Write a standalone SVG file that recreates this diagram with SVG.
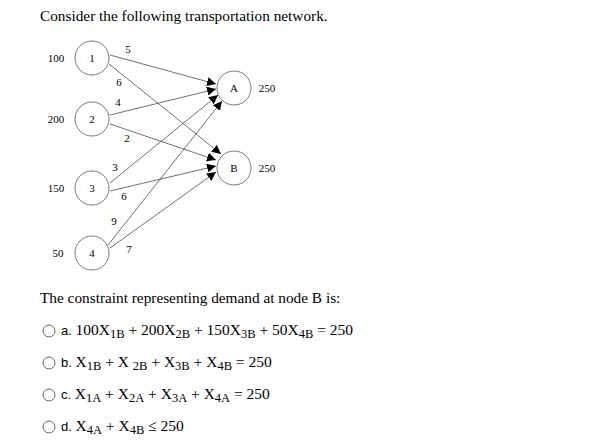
<svg xmlns="http://www.w3.org/2000/svg" width="607" height="447" viewBox="0 0 607 447">
<style>
.s{font-family:"Liberation Serif",serif;fill:#000}
.t{font-family:"Liberation Serif",serif;font-size:15.3px;fill:#000}
.n{font-family:"Liberation Serif",serif;font-size:11px;fill:#000}
.o{font-family:"Liberation Sans",sans-serif;font-size:13px;fill:#000}
.c{fill:#fff;stroke:#555;stroke-width:0.8}
.e{stroke:#333;stroke-width:0.7;fill:none;marker-end:url(#ah)}
.r{fill:#fff;stroke:#666;stroke-width:1}
</style>
<defs><marker id="ah" viewBox="0 0 10 10" refX="10" refY="5" markerWidth="9" markerHeight="9" markerUnits="userSpaceOnUse" orient="auto"><path d="M0,0L10,5L0,10z" fill="#000"/></marker></defs>
<rect width="607" height="447" fill="#fff"/>
<text class="t" x="40" y="21">Consider the following transportation network.</text>
<g id="edges">
<line class="e" x1="110" y1="55" x2="216" y2="84"/>
<line class="e" x1="109" y1="64" x2="221" y2="154"/>
<line class="e" x1="110" y1="115" x2="216" y2="89"/>
<line class="e" x1="110" y1="124" x2="216" y2="160"/>
<line class="e" x1="110" y1="183" x2="218" y2="95"/>
<line class="e" x1="110" y1="191" x2="216" y2="166"/>
<line class="e" x1="108" y1="245" x2="222" y2="101"/>
<line class="e" x1="110" y1="248" x2="216" y2="172"/>
<g class="n" text-anchor="middle">
<text x="128" y="53">5</text><text x="119" y="86">6</text><text x="118" y="106">4</text><text x="127" y="142">2</text>
<text x="115" y="171">3</text><text x="124" y="200">6</text><text x="114" y="225">9</text><text x="129" y="253">7</text>
</g>
</g>
<g id="n1"><circle class="c" cx="92" cy="58" r="17"/><text class="n" x="92" y="61.5" text-anchor="middle">1</text><text class="n" x="56" y="61.5" text-anchor="middle">100</text></g>
<g id="n2"><circle class="c" cx="92" cy="119" r="17"/><text class="n" x="92" y="122.5" text-anchor="middle">2</text><text class="n" x="56" y="122.5" text-anchor="middle">200</text></g>
<g id="n3"><circle class="c" cx="92" cy="188" r="17"/><text class="n" x="92" y="191.5" text-anchor="middle">3</text><text class="n" x="56" y="191.5" text-anchor="middle">150</text></g>
<g id="n4"><circle class="c" cx="92" cy="253" r="17"/><text class="n" x="92" y="256.5" text-anchor="middle">4</text><text class="n" x="58" y="256.5" text-anchor="middle">50</text></g>
<g id="nA"><circle class="c" cx="234" cy="88" r="17"/><text class="n" x="234" y="91.5" text-anchor="middle">A</text><text class="n" x="267" y="91.5" text-anchor="middle">250</text></g>
<g id="nB"><circle class="c" cx="234" cy="168" r="17"/><text class="n" x="234" y="171.5" text-anchor="middle">B</text><text class="n" x="267" y="171.5" text-anchor="middle">250</text></g>
<text class="t" x="40" y="303">The constraint representing demand at node B is:</text>
<g id="opts">
<circle class="r" cx="49" cy="331" r="6"/>
<text x="61" y="335"><tspan class="o">a. </tspan><tspan class="s" font-size="15.5">100X<tspan font-size="12.5" dy="3">1B</tspan><tspan dy="-3"> + 200X</tspan><tspan font-size="12.5" dy="3">2B</tspan><tspan dy="-3"> + 150X</tspan><tspan font-size="12.5" dy="3">3B</tspan><tspan dy="-3"> + 50X</tspan><tspan font-size="12.5" dy="3">4B</tspan><tspan dy="-3"> = 250</tspan></tspan></text>
<circle class="r" cx="49" cy="363" r="6"/>
<text x="61" y="367"><tspan class="o">b. </tspan><tspan class="s" font-size="15.5">X<tspan font-size="12.5" dy="3">1B</tspan><tspan dy="-3"> + X </tspan><tspan font-size="12.5" dy="3">2B</tspan><tspan dy="-3"> + X</tspan><tspan font-size="12.5" dy="3">3B</tspan><tspan dy="-3"> + X</tspan><tspan font-size="12.5" dy="3">4B</tspan><tspan dy="-3"> = 250</tspan></tspan></text>
<circle class="r" cx="49" cy="395" r="6"/>
<text x="61" y="399"><tspan class="o">c. </tspan><tspan class="s" font-size="15.5">X<tspan font-size="12.5" dy="3">1A</tspan><tspan dy="-3"> + X</tspan><tspan font-size="12.5" dy="3">2A</tspan><tspan dy="-3"> + X</tspan><tspan font-size="12.5" dy="3">3A</tspan><tspan dy="-3"> + X</tspan><tspan font-size="12.5" dy="3">4A</tspan><tspan dy="-3"> = 250</tspan></tspan></text>
<circle class="r" cx="49" cy="427" r="6"/>
<text x="61" y="431"><tspan class="o">d. </tspan><tspan class="s" font-size="15.5">X<tspan font-size="12.5" dy="3">4A</tspan><tspan dy="-3"> + X</tspan><tspan font-size="12.5" dy="3">4B</tspan><tspan dy="-3"> ≤ 250</tspan></tspan></text>
</g>
</svg>
